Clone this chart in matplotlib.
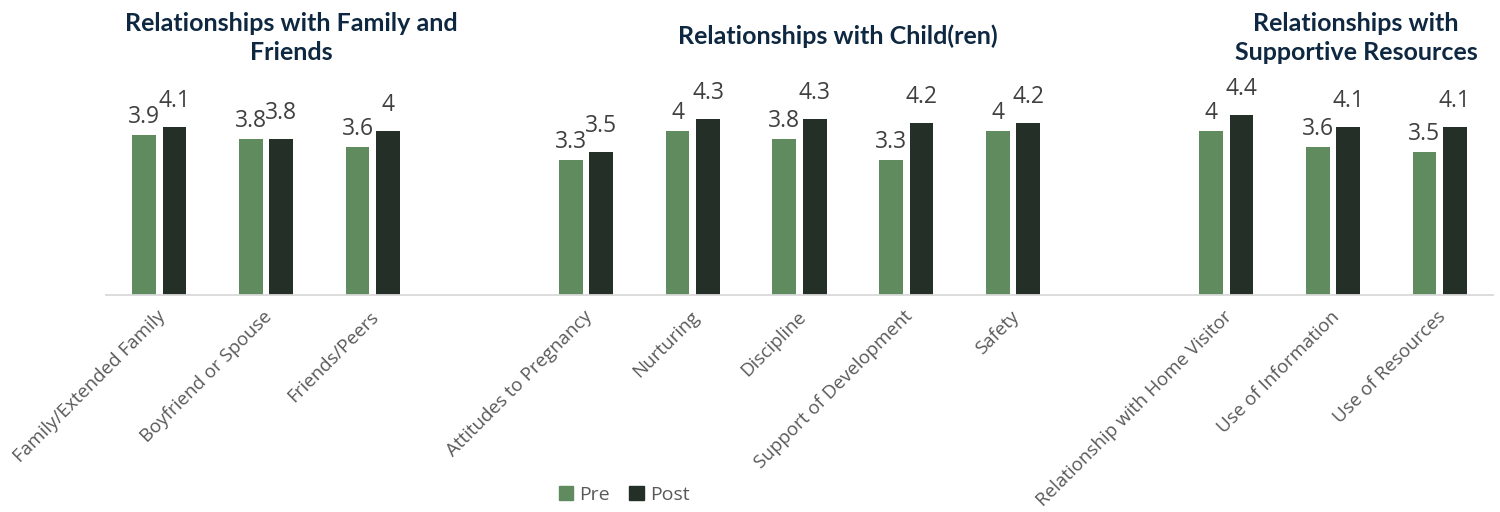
import matplotlib
matplotlib.use("Agg")
import matplotlib.pyplot as plt
import matplotlib.transforms as mtransforms
from matplotlib.patches import Patch

# ---- data ----
family_labels = ["Family/Extended Family", "Boyfriend or Spouse", "Friends/Peers"]
family_pre = [3.9, 3.8, 3.6]
family_post = [4.1, 3.8, 4.0]

child_labels = ["Attitudes to Pregnancy", "Nurturing", "Discipline",
                "Support of Development", "Safety"]
child_pre = [3.3, 4.0, 3.8, 3.3, 4.0]
child_post = [3.5, 4.3, 4.3, 4.2, 4.2]

support_labels = ["Relationship with Home Visitor", "Use of Information", "Use of Resources"]
support_pre = [4.0, 3.6, 3.5]
support_post = [4.4, 4.1, 4.1]

group_titles = ["Relationships with Family and\nFriends",
                "Relationships with Child(ren)",
                "Relationships with\nSupportive Resources"]

PRE_COL = "#5f8b5e"
POST_COL = "#232f27"
TITLE_COL = "#0e2841"
LABEL_COL = "#404040"
TICK_COL = "#595959"
TXT_FONT = ["Open Sans", "DejaVu Sans"]

# one empty slot between groups
groups = [(family_labels, family_pre, family_post),
          (child_labels, child_pre, child_post),
          (support_labels, support_pre, support_post)]
xs, labels, pre, post = [], [], [], []
slot = 0
for lab, p, q in groups:
    for i in range(len(lab)):
        xs.append(slot)
        slot += 1
    labels += lab
    pre += p
    post += q
    slot += 1
n_slots = slot - 1

W, H = 1500, 512
fig = plt.figure(figsize=(W / 100, H / 100), dpi=100)
ax = fig.add_axes([106 / W, (H - 295) / H, 1387 / W, 205 / H])

bw = 0.222
off = 0.1425
xp = [x - off for x in xs]
xq = [x + off for x in xs]
ax.bar(xp, pre, width=bw, color=PRE_COL, label="Pre")
ax.bar(xq, post, width=bw, color=POST_COL, label="Post")

ax.set_xlim(-0.5, n_slots - 0.5)
ax.set_ylim(0, 5)

for x, v in zip(xp, pre):
    ax.annotate(f"{v:g}", (x, v), xytext=(0, 12), textcoords="offset pixels",
                ha="center", va="baseline", fontsize=16.5, color=LABEL_COL,
                family=TXT_FONT)
for x, v in zip(xq, post):
    ax.annotate(f"{v:g}", (x, v), xytext=(0, 20), textcoords="offset pixels",
                ha="center", va="baseline", fontsize=16.5, color=LABEL_COL,
                family=TXT_FONT)

for s in ["top", "right", "left"]:
    ax.spines[s].set_visible(False)
ax.spines["bottom"].set_color("#d9d9d9")
ax.spines["bottom"].set_linewidth(1.3)
ax.set_yticks([])
ax.set_xticks(xs)
ax.set_xticklabels(labels, rotation=45, ha="right", rotation_mode="anchor",
                   fontsize=13.5, color=TICK_COL, family=TXT_FONT)
ax.tick_params(axis="x", length=0, pad=9)
shift = mtransforms.ScaledTranslation(-3 / 100, 0, fig.dpi_scale_trans)
for t in ax.get_xticklabels():
    t.set_transform(t.get_transform() + shift)

# group titles
title_x = [291, 838, 1356]
title_y = [38, 36, 38]
for t, x, y in zip(group_titles, title_x, title_y):
    fig.text(x / W, 1 - y / H, t, ha="center", va="center", fontsize=18,
             fontweight="bold", color=TITLE_COL, family="Lato", linespacing=1.3)

handles = [Patch(color=PRE_COL, label="Pre"), Patch(color=POST_COL, label="Post")]
fig.legend(handles=handles, loc="center", bbox_to_anchor=(624 / W, 1 - 495 / H),
           ncol=2, frameon=False, handlelength=0.75, handleheight=0.75,
           handletextpad=0.3, columnspacing=1.0,
           prop={"family": TXT_FONT, "size": 14}, labelcolor=TICK_COL)

fig.savefig("out.png", dpi=100)
